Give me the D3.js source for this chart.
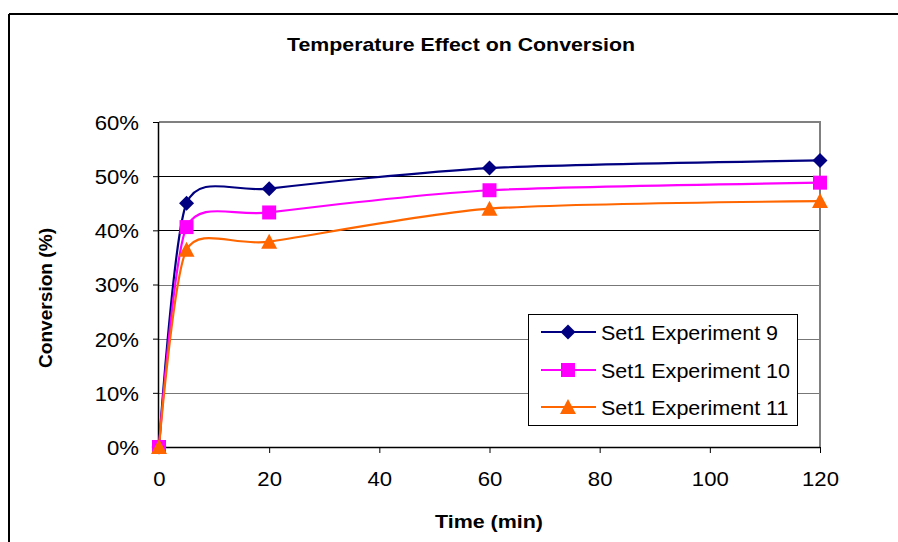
<!DOCTYPE html>
<html><head><meta charset="utf-8">
<script src="https://cdn.jsdelivr.net/npm/d3@7"></script>
<style>body{margin:0;background:#fff}svg{display:block}text{font-family:"Liberation Sans",Arial,sans-serif}</style>
</head><body>
<script>
const times = [0, 5, 20, 60, 120];
const exp9 = [0, 45.0, 47.7, 51.5, 52.9];
const exp10 = [0, 40.6, 43.3, 47.4, 48.8];
const exp11 = [0, 36.4, 37.9, 44.0, 45.4];
const seriesNames = ["Set1 Experiment 9", "Set1 Experiment 10", "Set1 Experiment 11"];
const xTicks = [0, 20, 40, 60, 80, 100, 120];
const yTicks = [0, 10, 20, 30, 40, 50, 60];
const title = "Temperature Effect on Conversion";
const xTitle = "Time (min)";
const yTitle = "Conversion (%)";

const series = [
  {name: seriesNames[0], values: exp9, color: "#000080", marker: "diamond"},
  {name: seriesNames[1], values: exp10, color: "#FF00FF", marker: "square"},
  {name: seriesNames[2], values: exp11, color: "#FF6600", marker: "triangle"}
];

const W = 898, H = 542;
const L = 159, R = 820, T = 122, B = 447;
const svg = d3.select("body").append("svg").attr("width", W).attr("height", H);

function stretch(sel, k) {
  sel.each(function () {
    const w = this.getComputedTextLength();
    d3.select(this).attr("textLength", w * k).attr("lengthAdjust", "spacingAndGlyphs");
  });
}

// outer chart border (top and left visible)
svg.append("line").attr("x1", 9).attr("x2", W).attr("y1", 14).attr("y2", 14).attr("stroke", "#000").attr("stroke-width", 2);
svg.append("line").attr("x1", 9).attr("x2", 9).attr("y1", 14).attr("y2", H).attr("stroke", "#000").attr("stroke-width", 2);

const x = d3.scaleLinear().domain([0, 120]).range([L, R]);
const y = d3.scaleLinear().domain([0, 60]).range([B, T]);

// gridlines
svg.append("g").selectAll("line").data(yTicks.filter(d => d > 0 && d < 60)).join("line")
  .attr("x1", L).attr("x2", R).attr("y1", d => Math.round(y(d)) + 0.5).attr("y2", d => Math.round(y(d)) + 0.5)
  .attr("stroke", d => (d === 40 || d === 50) ? "#000" : "#777").attr("stroke-width", 1);

// plot border (gray top/right)
svg.append("line").attr("x1", L).attr("x2", R + 1).attr("y1", T).attr("y2", T).attr("stroke", "#808080").attr("stroke-width", 2);
svg.append("line").attr("x1", R).attr("x2", R).attr("y1", T).attr("y2", B).attr("stroke", "#808080").attr("stroke-width", 2);

// axes
const yAxis = d3.axisLeft(y).tickValues(yTicks).tickFormat(d => d + "%").tickSize(6).tickPadding(14);
const gy = svg.append("g").attr("transform", `translate(${L},0)`).call(yAxis);
const xAxis = d3.axisBottom(x).tickValues(xTicks).tickFormat(d3.format("d")).tickSize(6).tickPadding(18);
const gx = svg.append("g").attr("transform", `translate(0,${B})`).call(xAxis);
[gx, gy].forEach(g => {
  g.select(".domain").attr("stroke", "#000").attr("stroke-width", 1.5);
  g.selectAll(".tick line").attr("stroke", "#000");
  g.selectAll(".tick text").attr("font-size", 20.5).attr("font-family", "Liberation Sans, Arial, sans-serif").attr("fill", "#000");
});
gy.selectAll(".tick text").attr("dy", "0.36em");
gx.selectAll(".tick text").attr("dy", "0.72em");
stretch(gx.selectAll(".tick text"), 1.08);
stretch(gy.selectAll(".tick text"), 1.08);
gx.select(".domain").attr("d", `M${L},0.5H${R}`);
gy.select(".domain").attr("d", `M-0.5,${T}V${B}`);

// markers
const sym = {
  diamond: {draw(c) { const r = 7.5; c.moveTo(0, -r); c.lineTo(r, 0); c.lineTo(0, r); c.lineTo(-r, 0); c.closePath(); }},
  square: {draw(c) { const r = 7; c.rect(-r, -r, 2 * r, 2 * r); }},
  triangle: {draw(c) { c.moveTo(0, -8); c.lineTo(8, 7); c.lineTo(-8, 7); c.closePath(); }}
};

// lines
const line = d3.line().x(d => x(d[0])).y(d => y(d[1])).curve(d3.curveCardinal.tension(0.3));

series.forEach(s => {
  const pts = times.map((t, i) => [t, s.values[i]]);
  svg.append("path").attr("d", line(pts)).attr("fill", "none").attr("stroke", s.color).attr("stroke-width", 2.2);
});
series.forEach(s => {
  const pts = times.map((t, i) => [t, s.values[i]]);
  svg.append("g").selectAll("path").data(pts).join("path")
    .attr("transform", d => `translate(${x(d[0])},${y(d[1])})`)
    .attr("d", d3.symbol().type(sym[s.marker]))
    .attr("fill", s.color);
});

// legend
const lg = svg.append("g");
lg.append("rect").attr("x", 528.5).attr("y", 314.5).attr("width", 269).attr("height", 111)
  .attr("fill", "#fff").attr("stroke", "#000").attr("stroke-width", 1);
const rowsY = [332, 370, 407];
series.forEach((s, i) => {
  lg.append("line").attr("x1", 541).attr("x2", 596).attr("y1", rowsY[i]).attr("y2", rowsY[i]).attr("stroke", s.color).attr("stroke-width", 2.2);
  lg.append("path").attr("transform", `translate(568,${rowsY[i]})`)
    .attr("d", d3.symbol().type(sym[s.marker])).attr("fill", s.color);
  lg.append("text").attr("class", "lt").attr("x", 601).attr("y", rowsY[i] + 7.5).attr("font-size", 20.5).attr("fill", "#000").text(s.name);
});
stretch(lg.selectAll(".lt"), 1.05);

// titles
const tt = svg.append("text").attr("x", 461).attr("y", 51).attr("text-anchor", "middle").attr("font-size", 18.5).attr("font-weight", "bold").text(title);
tt.attr("textLength", 348).attr("lengthAdjust", "spacingAndGlyphs");
const xt = svg.append("text").attr("x", 489).attr("y", 528).attr("text-anchor", "middle").attr("font-size", 18.5).attr("font-weight", "bold").text(xTitle);
xt.attr("textLength", 108).attr("lengthAdjust", "spacingAndGlyphs");
const yt = svg.append("text").attr("transform", "translate(52,298) rotate(-90)").attr("text-anchor", "middle").attr("font-size", 18.5).attr("font-weight", "bold").text(yTitle);
yt.attr("textLength", 140).attr("lengthAdjust", "spacingAndGlyphs");
</script>
</body></html>
